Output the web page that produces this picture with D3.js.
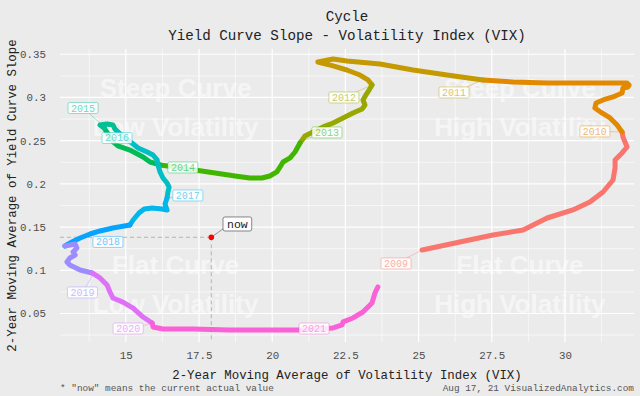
<!DOCTYPE html>
<html>
<head>
<meta charset="utf-8">
<script src="https://cdn.jsdelivr.net/npm/d3@7"></script>
<style>
  html, body { margin: 0; padding: 0; background: #ebebeb; }
  svg { display: block; }
</style>
</head>
<body>
<div id="chart"></div>
<script>
// years and colours (ggplot hue palette, one per year)
const years = [2009, 2010, 2011, 2012, 2013, 2014, 2015, 2016, 2017, 2018, 2019, 2020, 2021];
const yearColors = ["#F8766D", "#E38900", "#C49A00", "#99A800", "#40B600", "#00BC56", "#00C094",
                    "#00BFC4", "#00B6EB", "#06A4FF", "#9C8CFF", "#DF70F8", "#FB61D7"];

// 2-year moving average of VIX, one list per year
const pathVix = [
  [25.12, 26.41, 27.54, 28.57, 29.39, 30.27, 30.85, 31.30, 31.64, 31.71, 31.71, 31.95, 32.12, 31.98, 31.95],
  [31.95, 31.78, 31.54, 31.26, 31.02, 31.06, 31.30, 31.64, 31.95, 31.98, 32.15, 32.19, 32.12, 31.54, 30.51, 29.39, 28.22, 27.20],
  [27.20, 25.97, 24.81, 23.68, 22.55, 22.08, 21.56, 22.08, 22.55, 23.00, 23.27, 23.41],
  [23.41, 23.27, 23.20, 23.10, 23.17, 23.07, 22.76, 22.42, 22.08, 21.74, 21.39, 21.12, 20.95],
  [20.95, 20.78, 20.61, 20.37, 20.27, 20.16, 19.92, 19.65, 19.24, 18.73, 18.05, 17.36, 16.68, 16.17],
  [16.17, 15.83, 15.59, 15.14, 14.73, 14.53, 14.39, 14.26],
  [14.26, 14.12, 14.36, 14.56, 14.63, 14.73],
  [14.73, 14.97, 15.21, 15.42, 15.73, 15.93, 16.07, 16.10, 16.17, 16.27, 16.41, 16.48, 16.44, 16.41],
  [16.41, 16.34, 16.41, 16.24, 15.90, 15.63, 15.45, 15.25, 15.14],
  [15.14, 14.56, 14.12, 13.78, 13.44, 13.16, 12.92],
  [12.92, 13.27, 13.33, 13.20, 13.27, 13.09, 12.99, 13.09, 13.44, 13.85],
  [13.85, 14.12, 14.36, 14.46, 14.56, 14.90, 15.25, 15.59, 15.90],
  [15.90, 15.93, 16.27, 17.29, 18.55, 19.58, 20.95, 22.08, 22.39, 22.42, 22.76, 23.10, 23.41, 23.51, 23.61]
];

// 2-year moving average of yield curve slope, one list per year
const pathSlope = [
  [0.1235, 0.1328, 0.1409, 0.1466, 0.1605, 0.1698, 0.1791, 0.1906, 0.2045, 0.2184, 0.2277, 0.2358, 0.2427, 0.2543, 0.2601],
  [0.2601, 0.2682, 0.2763, 0.2821, 0.2878, 0.2936, 0.2971, 0.3006, 0.3052, 0.3110, 0.3122, 0.3145, 0.3168, 0.3168, 0.3168, 0.3168, 0.3179, 0.3203],
  [0.3203, 0.3260, 0.3318, 0.3388, 0.3422, 0.3446, 0.3411, 0.3365, 0.3318, 0.3260, 0.3203, 0.3145],
  [0.3145, 0.3064, 0.3029, 0.2971, 0.2913, 0.2867, 0.2821, 0.2763, 0.2705, 0.2659, 0.2601, 0.2554, 0.2473],
  [0.2473, 0.2369, 0.2300, 0.2253, 0.2196, 0.2138, 0.2091, 0.2068, 0.2068, 0.2091, 0.2126, 0.2161, 0.2196, 0.2219],
  [0.2219, 0.2253, 0.2311, 0.2392, 0.2439, 0.2497, 0.2578, 0.2647],
  [0.2647, 0.2682, 0.2693, 0.2682, 0.2635, 0.2601],
  [0.2601, 0.2531, 0.2473, 0.2416, 0.2369, 0.2334, 0.2277, 0.2219, 0.2138, 0.2068, 0.2010, 0.1963, 0.1906, 0.1837],
  [0.1837, 0.1767, 0.1698, 0.1710, 0.1721, 0.1710, 0.1663, 0.1582, 0.1524],
  [0.1524, 0.1490, 0.1455, 0.1420, 0.1374, 0.1328, 0.1281],
  [0.1281, 0.1304, 0.1258, 0.1212, 0.1177, 0.1142, 0.1096, 0.1061, 0.1003, 0.0969],
  [0.0969, 0.0911, 0.0830, 0.0749, 0.0679, 0.0632, 0.0562, 0.0459, 0.0390],
  [0.0390, 0.0344, 0.0321, 0.0321, 0.0309, 0.0309, 0.0309, 0.0333, 0.0368, 0.0403, 0.0448, 0.0517, 0.0621, 0.0737, 0.0807]
];

// year labels: where the box sits and which point it refers to
const labelVix    = [24.23, 31.02, 26.21, 22.45, 21.87, 16.95, 13.54, 14.70, 17.12, 14.39, 13.52, 15.08, 21.43];
const labelSlope  = [0.1079, 0.2607, 0.3058, 0.3000, 0.2595, 0.2190, 0.2878, 0.2531, 0.1866, 0.1328, 0.0743, 0.0326, 0.0326];
const targetVix   = [25.12, 31.95, 27.20, 23.41, 21.05, 16.17, 14.19, 14.73, 16.41, 13.85, 13.91, 15.86, 20.95];
const targetSlope = [0.1235, 0.2601, 0.3203, 0.3145, 0.2508, 0.2219, 0.2682, 0.2601, 0.1837, 0.1409, 0.0969, 0.0379, 0.0309];

// current actual value
const nowVix = 17.92;
const nowSlope = 0.1382;
const nowLabelVix = 18.81;
const nowLabelSlope = 0.1536;

// quadrant watermarks
const quadText  = [["Steep Curve", "Low Volatility"], ["Steep Curve", "High Volatility"],
                   ["Flat Curve", "Low Volatility"], ["Flat Curve", "High Volatility"]];
const quadVix   = [16.70, 28.46, 16.70, 28.46];
const quadSlope = [0.2878, 0.2878, 0.0832, 0.0832];

const xTicks = [15, 17.5, 20, 22.5, 25, 27.5, 30];
const yTicks = [0.05, 0.1, 0.15, 0.2, 0.25, 0.3, 0.35];

const W = 640, H = 396;
const panel = { left: 60, right: 634, top: 49, bottom: 342 };
const mono = "'Liberation Mono', 'Courier New', monospace";

const x = d3.scaleLinear().domain([12.753, 32.357]).range([panel.left, panel.right]);
const y = d3.scaleLinear().domain([0.0170, 0.3561]).range([panel.bottom, panel.top]);

const svg = d3.select("#chart").append("svg")
  .attr("width", W)
  .attr("height", H);

svg.append("rect").attr("width", W).attr("height", H).attr("fill", "#ebebeb");
svg.append("rect")
  .attr("x", panel.left).attr("y", panel.top)
  .attr("width", panel.right - panel.left).attr("height", panel.bottom - panel.top)
  .attr("fill", "#ebebeb");

// minor grid (midpoints between major ticks)
const xStep = xTicks[1] - xTicks[0], yStep = yTicks[1] - yTicks[0];
const xMinor = [xTicks[0] - xStep / 2].concat(xTicks.map(d => d + xStep / 2));
const yMinor = [yTicks[0] - yStep / 2].concat(yTicks.map(d => d + yStep / 2));

const grid = svg.append("g");
grid.selectAll(".xminor").data(xMinor.filter(d => x(d) > panel.left && x(d) < panel.right)).enter()
  .append("line")
  .attr("x1", d => x(d)).attr("x2", d => x(d))
  .attr("y1", panel.top).attr("y2", panel.bottom)
  .attr("stroke", "#fff").attr("stroke-width", 0.6);
grid.selectAll(".yminor").data(yMinor.filter(d => y(d) > panel.top && y(d) < panel.bottom)).enter()
  .append("line")
  .attr("y1", d => y(d)).attr("y2", d => y(d))
  .attr("x1", panel.left).attr("x2", panel.right)
  .attr("stroke", "#fff").attr("stroke-width", 0.6);
grid.selectAll(".xmajor").data(xTicks).enter()
  .append("line")
  .attr("x1", d => x(d)).attr("x2", d => x(d))
  .attr("y1", panel.top).attr("y2", panel.bottom)
  .attr("stroke", "#fff").attr("stroke-width", 1.2);
grid.selectAll(".ymajor").data(yTicks).enter()
  .append("line")
  .attr("y1", d => y(d)).attr("y2", d => y(d))
  .attr("x1", panel.left).attr("x2", panel.right)
  .attr("stroke", "#fff").attr("stroke-width", 1.2);

// quadrant watermark text
quadText.forEach((lines, i) => {
  const t = svg.append("text")
    .attr("text-anchor", "middle")
    .attr("font-family", "'Liberation Sans', Arial, sans-serif")
    .attr("font-weight", "bold")
    .attr("font-size", 26)
    .attr("fill", "#ffffff")
    .attr("fill-opacity", 0.55);
  lines.forEach((ln, j) => {
    t.append("tspan")
      .attr("x", x(quadVix[i]))
      .attr("y", y(quadSlope[i]) + (j === 0 ? -11 : 28))
      .text(ln);
  });
});

// dashed guides to the "now" point
svg.append("line")
  .attr("x1", panel.left).attr("x2", x(nowVix))
  .attr("y1", y(nowSlope)).attr("y2", y(nowSlope))
  .attr("stroke", "#999").attr("stroke-width", 0.7).attr("stroke-dasharray", "4,3");
svg.append("line")
  .attr("x1", x(nowVix)).attr("x2", x(nowVix))
  .attr("y1", y(nowSlope)).attr("y2", panel.bottom)
  .attr("stroke", "#999").attr("stroke-width", 0.7).attr("stroke-dasharray", "4,3");

// the cycle path, one piece per year
const line = d3.line().x(d => x(d[0])).y(d => y(d[1])).curve(d3.curveLinear);
const pieces = years.map((yr, i) => ({
  year: yr,
  color: yearColors[i],
  pts: pathVix[i].map((v, k) => [v, pathSlope[i][k]])
}));

svg.append("g").selectAll("path").data(pieces).enter()
  .append("path")
  .attr("d", d => line(d.pts))
  .attr("fill", "none")
  .attr("stroke", d => d.color)
  .attr("stroke-width", 5)
  .attr("stroke-linecap", "round")
  .attr("stroke-linejoin", "round");

// year labels with leader lines
const labG = svg.append("g");
years.forEach((yr, i) => {
  const cx = x(labelVix[i]), cy = y(labelSlope[i]);
  const tx = x(targetVix[i]), ty = y(targetSlope[i]);
  const g = labG.append("g");
  const txt = g.append("text")
    .attr("x", cx).attr("y", cy + 3.5)
    .attr("text-anchor", "middle")
    .attr("font-family", mono)
    .attr("font-size", 10)
    .attr("fill", yearColors[i])
    .attr("fill-opacity", 0.6)
    .text(yr);
  const tw = txt.node().getComputedTextLength();
  const hw = tw / 2 + 3, hh = 5.5;
  const dx = tx - cx, dy = ty - cy;
  const t = Math.min(dx === 0 ? Infinity : hw / Math.abs(dx), dy === 0 ? Infinity : hh / Math.abs(dy));
  if (t < 1) {
    const sx = cx + dx * t, sy = cy + dy * t;
    if (Math.hypot(tx - sx, ty - sy) > 4) {
      g.insert("line", "text")
        .attr("x1", sx).attr("y1", sy).attr("x2", tx).attr("y2", ty)
        .attr("stroke", yearColors[i]).attr("stroke-opacity", 0.6).attr("stroke-width", 0.6);
    }
  }
  g.insert("rect", "text")
    .attr("x", cx - hw).attr("y", cy - hh)
    .attr("width", hw * 2).attr("height", hh * 2)
    .attr("rx", 1.5)
    .attr("fill", "#ffffff").attr("fill-opacity", 0.85)
    .attr("stroke", yearColors[i]).attr("stroke-opacity", 0.6).attr("stroke-width", 0.7);
});

// now point + label
const ncx = x(nowLabelVix), ncy = y(nowLabelSlope);
const nowG = svg.append("g");
const nowTxt = nowG.append("text")
  .attr("x", ncx).attr("y", ncy + 4)
  .attr("text-anchor", "middle")
  .attr("font-family", mono)
  .attr("font-size", 11.5)
  .attr("fill", "#222")
  .text("now");
const nw = nowTxt.node().getComputedTextLength() / 2 + 4, nh = 7;
nowG.insert("line", "text")
  .attr("x1", x(nowVix)).attr("y1", y(nowSlope))
  .attr("x2", ncx - nw).attr("y2", ncy + nh - 2)
  .attr("stroke", "#555").attr("stroke-width", 0.6);
nowG.insert("rect", "text")
  .attr("x", ncx - nw).attr("y", ncy - nh)
  .attr("width", nw * 2).attr("height", nh * 2)
  .attr("rx", 2)
  .attr("fill", "#fff")
  .attr("stroke", "#555").attr("stroke-width", 0.7);
svg.append("circle")
  .attr("cx", x(nowVix)).attr("cy", y(nowSlope))
  .attr("r", 2.8)
  .attr("fill", "#ff0000");

// axes
const xAxis = svg.append("g")
  .attr("transform", `translate(0,${panel.bottom})`)
  .call(d3.axisBottom(x).tickValues(xTicks).tickSize(0).tickPadding(9).tickFormat(d => String(d)));
const yAxis = svg.append("g")
  .attr("transform", `translate(${panel.left},0)`)
  .call(d3.axisLeft(y).tickValues(yTicks).tickSize(0).tickPadding(14).tickFormat(d => String(d)));
[xAxis, yAxis].forEach(a => {
  a.select(".domain").remove();
  a.selectAll("text")
    .attr("font-family", mono)
    .attr("font-size", 10.8)
    .attr("fill", "#4d4d4d");
});

// titles
const midX = (panel.left + panel.right) / 2;
svg.append("text")
  .attr("x", midX).attr("y", 21)
  .attr("text-anchor", "middle")
  .attr("font-family", mono).attr("font-size", 14.2).attr("fill", "#222")
  .text("Cycle");
svg.append("text")
  .attr("x", midX).attr("y", 40)
  .attr("text-anchor", "middle")
  .attr("font-family", mono).attr("font-size", 14.2).attr("fill", "#222")
  .text("Yield Curve Slope - Volatility Index (VIX)");
svg.append("text")
  .attr("x", midX).attr("y", 379)
  .attr("text-anchor", "middle")
  .attr("font-family", mono).attr("font-size", 12.4).attr("fill", "#222")
  .text("2-Year Moving Average of Volatility Index (VIX)");
svg.append("text")
  .attr("transform", `translate(16,${(panel.top + panel.bottom) / 2}) rotate(-90)`)
  .attr("text-anchor", "middle")
  .attr("font-family", mono).attr("font-size", 12.4).attr("fill", "#222")
  .text("2-Year Moving Average of Yield Curve Slope");

// footer
svg.append("text")
  .attr("x", panel.left).attr("y", 391)
  .attr("font-family", mono).attr("font-size", 9.4).attr("fill", "#555")
  .text("* \"now\" means the current actual value");
svg.append("text")
  .attr("x", panel.right).attr("y", 391)
  .attr("text-anchor", "end")
  .attr("font-family", mono).attr("font-size", 9.4).attr("fill", "#555")
  .text("Aug 17, 21  VisualizedAnalytics.com");
</script>
</body>
</html>
